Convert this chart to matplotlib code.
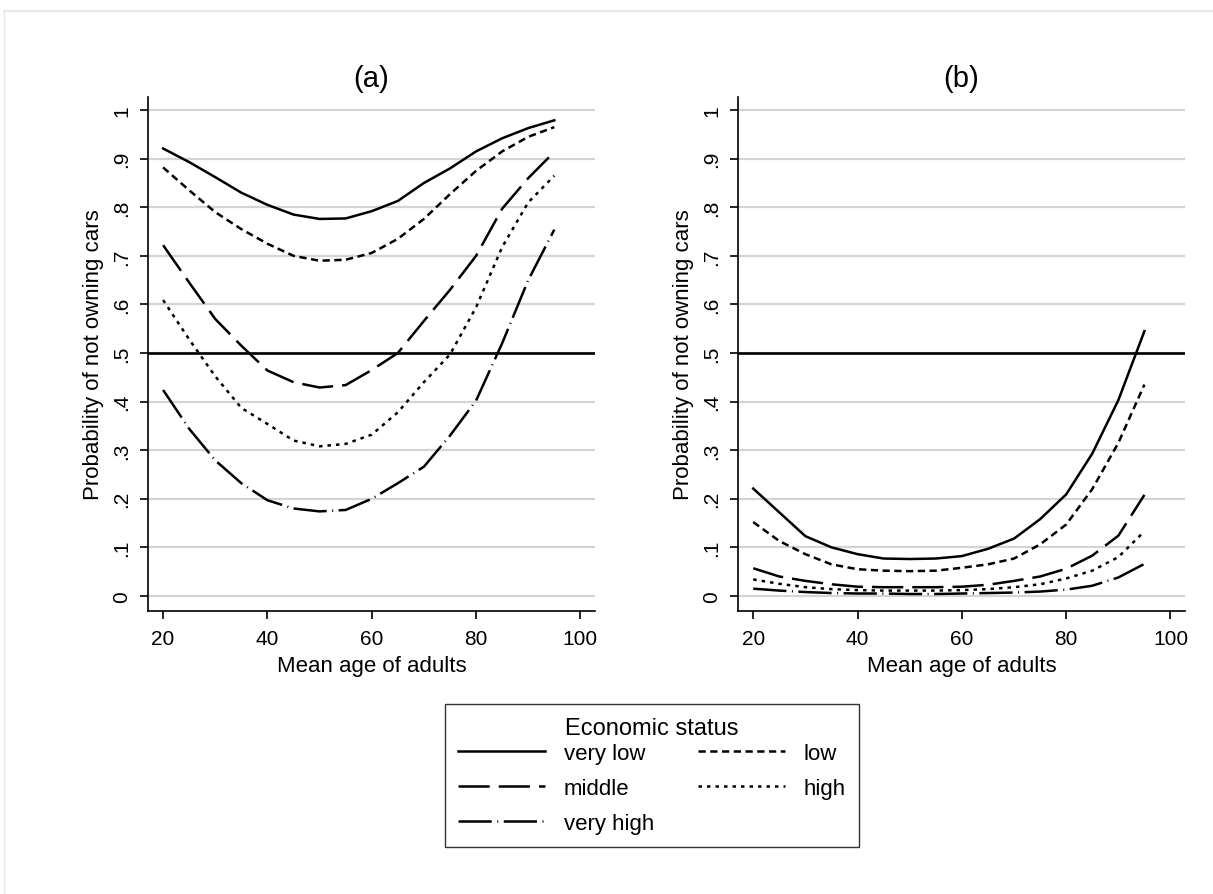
import numpy as np
import matplotlib
matplotlib.use('Agg')
import matplotlib.pyplot as plt
from matplotlib.lines import Line2D

plt.rcParams['font.family'] = ['Liberation Sans', 'DejaVu Sans']

# Mean age of adults (x values of the predicted curves)
age = [20, 25, 30, 35, 40, 45, 50, 55, 60, 65, 70, 75, 80, 85, 90, 95]

# Panel (a)
a_very_low = [.921, .893, .862, .830, .805, .785, .776, .777, .792, .813, .850, .880, .915, .942, .963, .979]
a_low = [.882, .835, .790, .755, .725, .700, .690, .692, .706, .735, .776, .827, .875, .915, .945, .965]
a_middle = [.722, .645, .570, .515, .464, .440, .429, .434, .465, .500, .566, .630, .700, .797, .860, .914]
a_high = [.609, .528, .452, .387, .354, .320, .308, .313, .332, .378, .440, .497, .594, .718, .810, .865]
a_very_high = [.424, .344, .279, .232, .197, .180, .174, .177, .200, .232, .266, .330, .402, .520, .650, .754]

# Panel (b)
b_very_low = [.221, .172, .123, .100, .086, .077, .076, .077, .082, .097, .118, .158, .209, .293, .403, .545]
b_low = [.152, .113, .086, .065, .055, .052, .051, .052, .058, .065, .077, .106, .147, .220, .315, .435]
b_middle = [.057, .040, .031, .024, .019, .018, .018, .018, .019, .023, .031, .040, .056, .083, .124, .208]
b_high = [.034, .025, .018, .014, .012, .011, .011, .011, .012, .014, .018, .024, .036, .052, .080, .133]
b_very_high = [.015, .011, .008, .006, .005, .005, .004, .004, .005, .006, .007, .009, .013, .021, .038, .066]

labels = ['very low', 'low', 'middle', 'high', 'very high']
styles = ['-', (0, (2.9, 1.8)), (0, (12.5, 3.6)), (0, (1.4, 2.0)), (0, (13.3, 2.2, 0.4, 2.2))]

yticks = [0, .1, .2, .3, .4, .5, .6, .7, .8, .9, 1]
ytick_labels = ['0', '.1', '.2', '.3', '.4', '.5', '.6', '.7', '.8', '.9', '1']
xticks = [20, 40, 60, 80, 100]

fig = plt.figure(figsize=(12.13, 8.95), dpi=100)

# faint outer frame
fig.add_artist(Line2D([0.0035, 1], [0.9866, 0.9866], color='#e3eaee', lw=1.5))
fig.add_artist(Line2D([0.0035, 0.0035], [0, 0.9866], color='#e3eaee', lw=1.0))

ax1 = fig.add_axes([0.122, 0.3162, 0.3685, 0.5743])
ax2 = fig.add_axes([0.6085, 0.3162, 0.3685, 0.5743])

panels = [
    (ax1, '(a)', [a_very_low, a_low, a_middle, a_high, a_very_high]),
    (ax2, '(b)', [b_very_low, b_low, b_middle, b_high, b_very_high]),
]

handles = []
for ax, title, series in panels:
    ax.set_xlim(17.1, 102.8)
    ax.set_ylim(-0.031, 1.027)
    ax.set_yticks(yticks)
    ax.set_yticklabels(ytick_labels, rotation=90, va='center')
    ax.set_xticks(xticks)
    for yv in yticks:
        ax.axhline(yv, color='#d4d4d4', lw=1.6, zorder=0)
    ax.axhline(0.5, color='black', lw=1.9, zorder=2)
    handles = []
    for vals, lab, ls in zip(series, labels, styles):
        h, = ax.plot(age, vals, color='black', lw=1.8, linestyle=ls, label=lab, zorder=3)
        handles.append(h)
    for side in ['top', 'right']:
        ax.spines[side].set_visible(False)
    ax.spines['left'].set_linewidth(1.2)
    ax.spines['bottom'].set_linewidth(1.2)
    ax.tick_params(axis='both', direction='out', length=6, width=1.2, labelsize=15)
    ax.tick_params(axis='y', pad=6)
    ax.tick_params(axis='x', pad=7)
    ax.set_title(title, fontsize=21, pad=8)
    ax.set_xlabel('Mean age of adults', fontsize=16, labelpad=5)
    ax.set_ylabel('Probability of not owning cars', fontsize=16, labelpad=6)

order = [0, 2, 4, 1, 3]
leg = fig.legend([handles[i] for i in order], [labels[i] for i in order],
                 loc='center', bbox_to_anchor=(0.5375, 0.1325), ncol=2,
                 title='Economic status', title_fontsize=17, fontsize=16,
                 frameon=True, fancybox=False, edgecolor='black',
                 handlelength=3.9, handletextpad=0.85, columnspacing=2.0,
                 labelspacing=0.62, borderpad=0.6)
leg.get_frame().set_linewidth(1.0)
# tighter gap between legend title and first row
leg._legend_box.sep = 3

fig.savefig('out.png', dpi=100)
